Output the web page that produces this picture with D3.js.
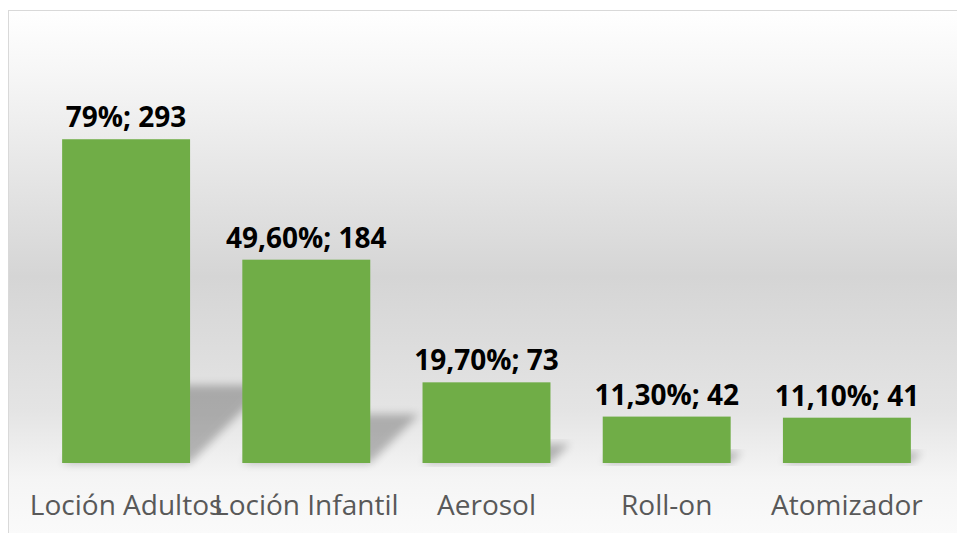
<!DOCTYPE html>
<html>
<head>
<meta charset="utf-8">
<script src="https://cdn.jsdelivr.net/npm/d3@7"></script>
<style>
  body { margin: 0; background: #fff; }
  svg { display: block; }
</style>
</head>
<body>
<div id="chart"></div>
<script>
var categories = ["Loción Adultos", "Loción Infantil", "Aerosol", "Roll-on", "Atomizador"];
var counts = [293, 184, 73, 42, 41];
var percents = ["79%", "49,60%", "19,70%", "11,30%", "11,10%"];

var w = 957, h = 533;
var svg = d3.select("#chart").append("svg")
  .attr("width", w)
  .attr("height", h);

var defs = svg.append("defs");
var grad = defs.append("linearGradient")
  .attr("id", "bg")
  .attr("x1", 0).attr("y1", 0).attr("x2", 0).attr("y2", 1);
[[0, "#ffffff"], [0.12, "#f6f6f6"], [0.5, "#d5d5d5"], [0.75, "#e4e4e4"], [0.88, "#f5f5f5"], [1, "#fbfbfb"]]
  .forEach(function(s) {
    grad.append("stop").attr("offset", s[0]).attr("stop-color", s[1]);
  });

defs.append("filter")
  .attr("id", "blur")
  .attr("x", "-20%").attr("y", "-20%").attr("width", "140%").attr("height", "140%")
  .append("feGaussianBlur")
  .attr("stdDeviation", 4);

// chart area
svg.append("rect")
  .attr("x", 8.5).attr("y", 10.5)
  .attr("width", w).attr("height", h)
  .attr("fill", "url(#bg)")
  .attr("stroke", "#d9d9d9")
  .attr("stroke-width", 1);

var xScale = d3.scaleBand()
  .domain(categories)
  .range([36, 937])
  .paddingInner(0.29)
  .paddingOuter(0.145);

var yScale = d3.scaleLinear()
  .domain([0, 300])
  .range([463, 131.5]);

var base = yScale(0);

// perspective shadows
svg.selectAll("polygon.shadow")
  .data(counts)
  .enter()
  .append("polygon")
  .attr("class", "shadow")
  .attr("points", function(d, i) {
    var x0 = xScale(categories[i]);
    var x1 = x0 + xScale.bandwidth();
    var sh = (base - yScale(d)) * 0.24;
    return [[x0, base], [x1, base], [x1 + sh, base - sh], [x0 + sh, base - sh]].join(" ");
  })
  .attr("fill", "#000")
  .attr("opacity", 0.25)
  .attr("filter", "url(#blur)");

svg.selectAll("rect.bar")
  .data(counts)
  .enter()
  .append("rect")
  .attr("class", "bar")
  .attr("x", function(d, i) { return xScale(categories[i]); })
  .attr("y", function(d) { return yScale(d); })
  .attr("width", xScale.bandwidth())
  .attr("height", function(d) { return base - yScale(d); })
  .attr("fill", "#70ad47");

// value labels
svg.selectAll("text.value")
  .data(counts)
  .enter()
  .append("text")
  .attr("class", "value")
  .attr("x", function(d, i) { return xScale(categories[i]) + xScale.bandwidth() / 2; })
  .attr("y", function(d) { return yScale(d) - 12; })
  .attr("text-anchor", "middle")
  .attr("font-family", "'Open Sans', sans-serif")
  .attr("font-weight", "bold")
  .attr("font-size", 28)
  .attr("fill", "#000")
  .text(function(d, i) { return percents[i] + "; " + d; });

// category axis
var xAxis = d3.axisBottom(xScale).tickSize(0).tickPadding(0);
var gx = svg.append("g")
  .attr("transform", "translate(0," + base + ")")
  .call(xAxis);
gx.select(".domain").remove();
gx.selectAll("text")
  .attr("dy", null)
  .attr("y", 52)
  .attr("font-family", "'Open Sans', sans-serif")
  .attr("font-size", 28)
  .attr("fill", "#595959");
</script>
</body>
</html>
